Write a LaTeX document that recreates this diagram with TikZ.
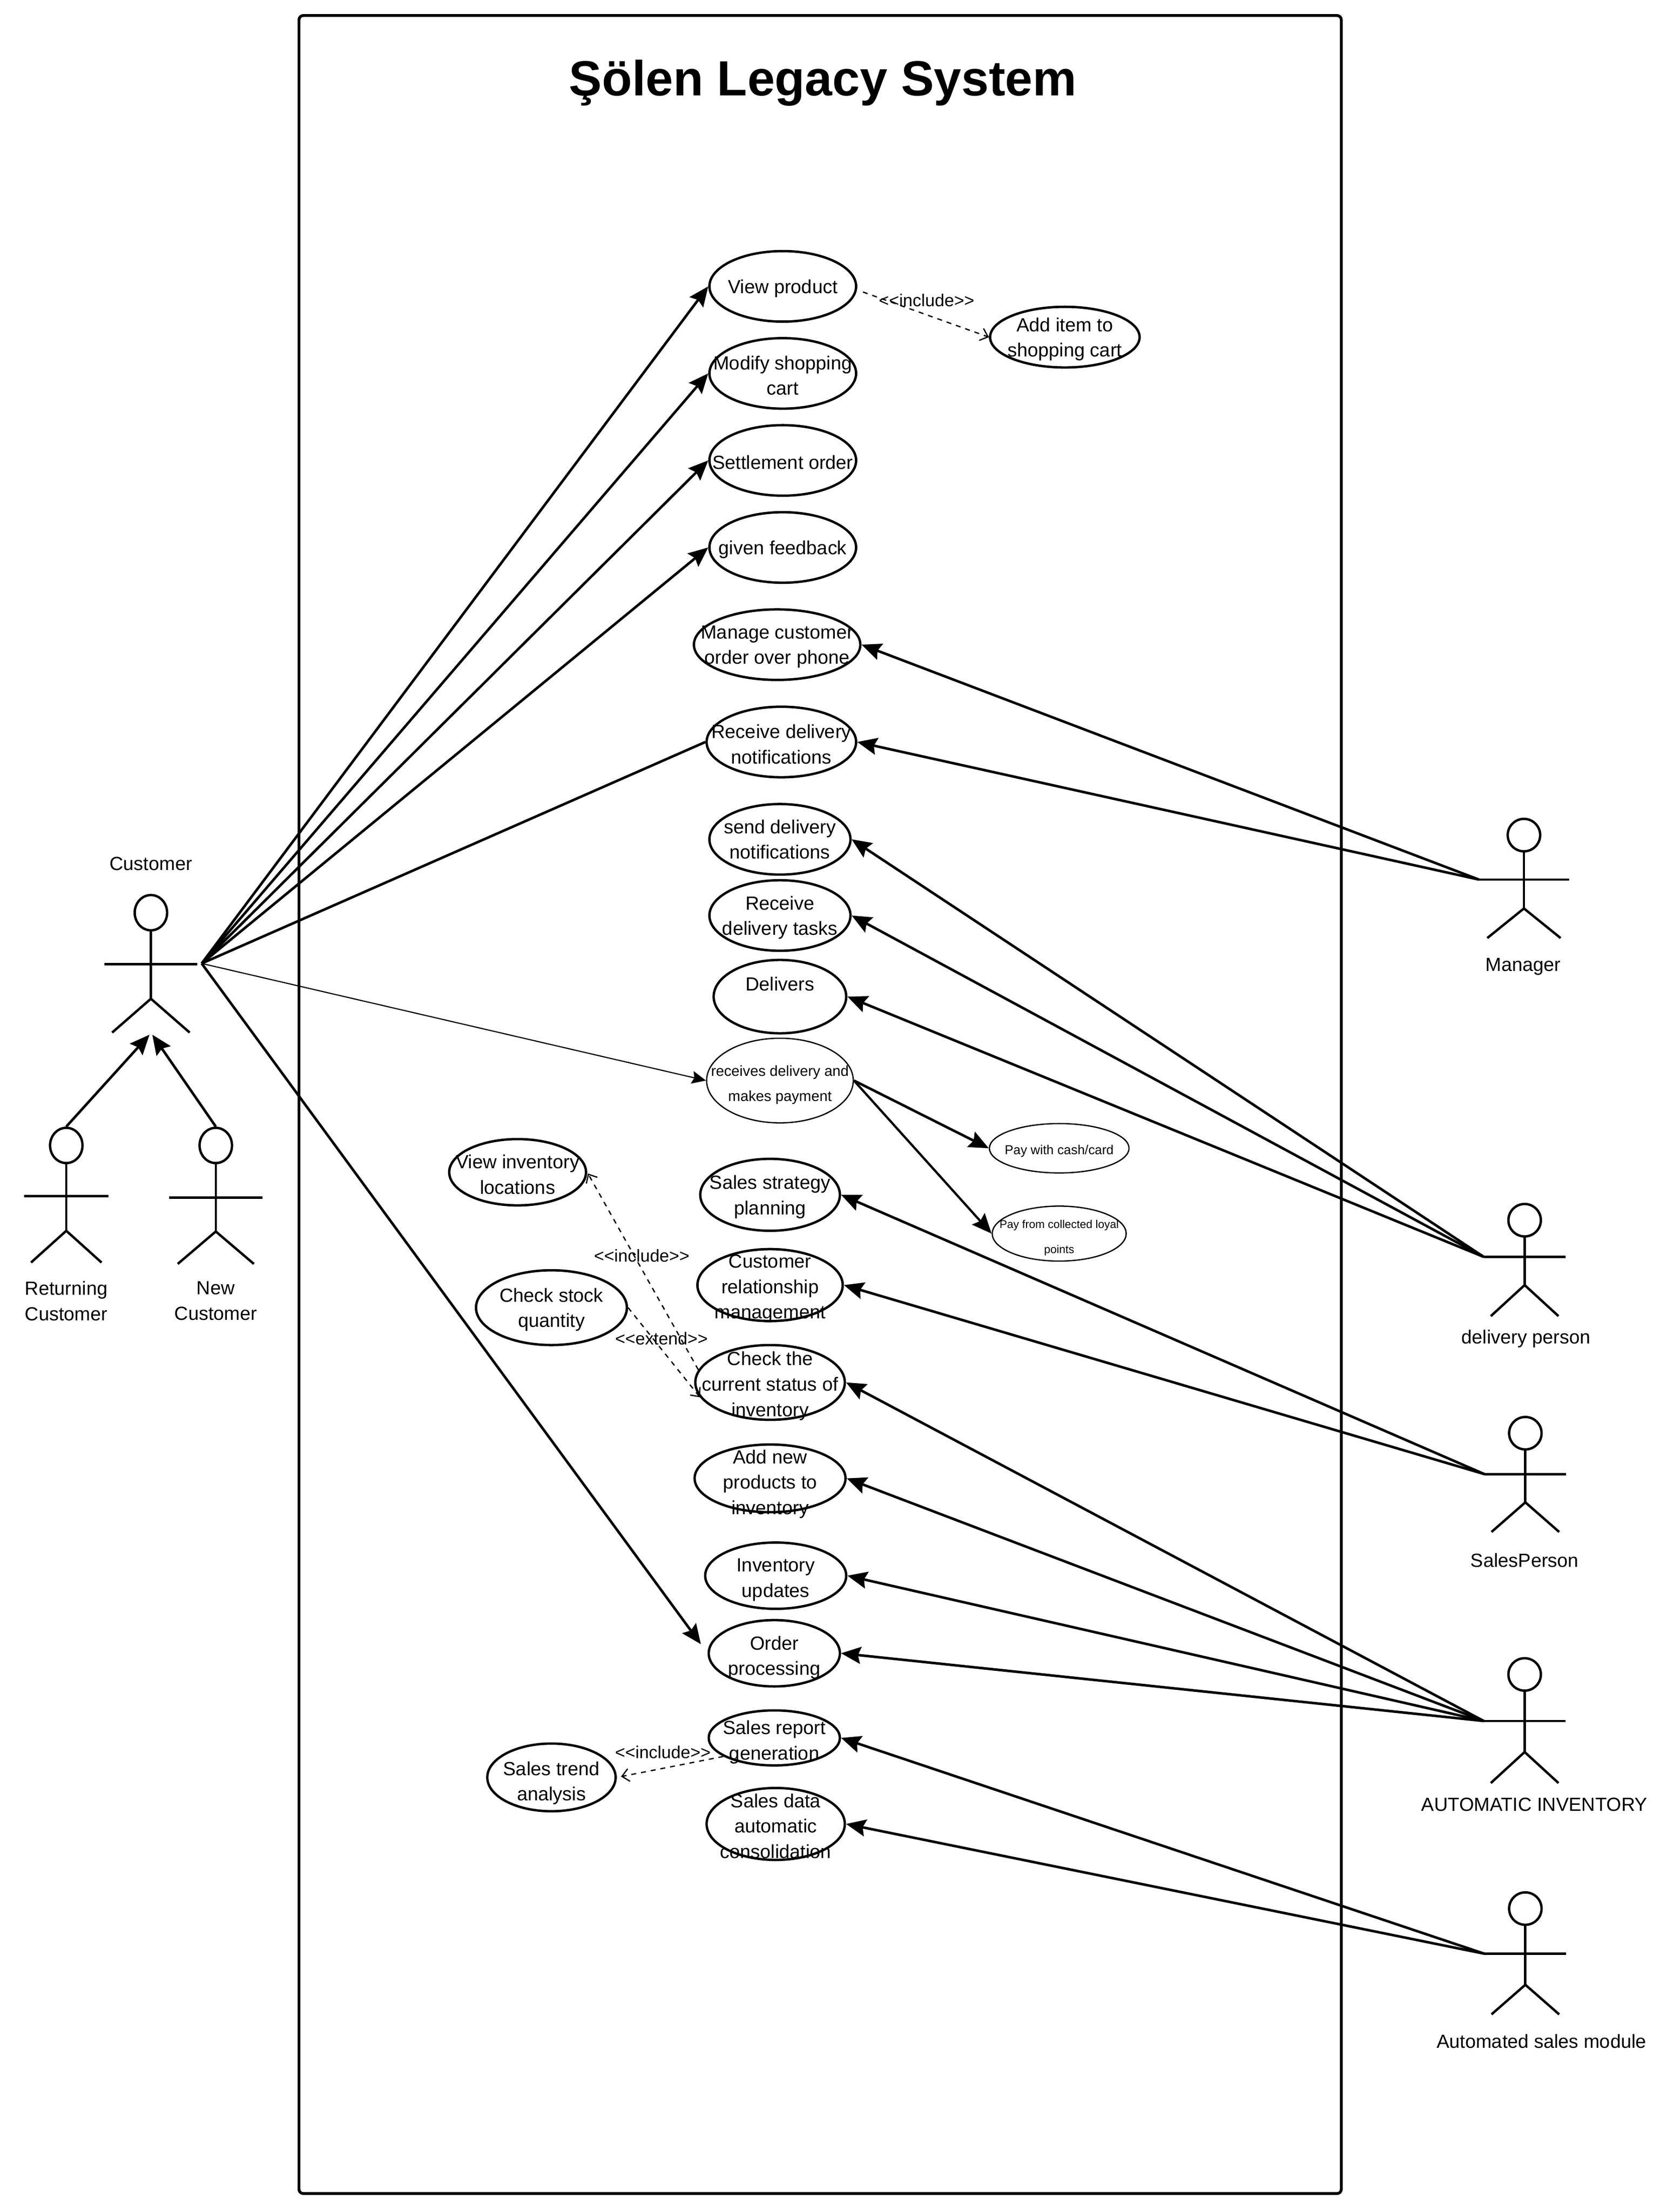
\documentclass[tikz,border=0pt]{standalone}
\usepackage{fontspec}
\setmainfont{Liberation Sans}
\usetikzlibrary{arrows.meta,shapes.geometric,positioning}

% name, x, head y, arm y, hip y, foot y, half arm, half stance
\newcommand{\stickman}[8]{
	\node (#1) [head] at (#2,#3) {};
	\coordinate (#1l) at (#2-#7,#4);
	\coordinate (#1r) at (#2+#7,#4);
	\coordinate (#1b) at (#2,#5);
	\coordinate (#1fl) at (#2-#8,#6);
	\coordinate (#1fr) at (#2+#8,#6);
	\draw[limb] (#1) -- (#1b);
	\draw[limb] (#1l) -- (#1r);
	\draw[limb] (#1fl) -- (#1b) -- (#1fr);
}

\begin{document}
\begin{tikzpicture}[
		x=1pt, y=-1pt,
		node distance=10pt,
		limb/.style={line width=1.7pt},
		head/.style={draw, ellipse, line width=1.7pt, minimum width=23pt, minimum height=25pt, inner sep=0pt},
		usecase/.style={draw, ellipse, line width=1.7pt, inner sep=0pt},
		thincase/.style={draw, ellipse, line width=0.9pt, inner sep=0pt},
		uctext/.style={align=center, inner sep=0pt, yshift=-1.5pt, font=\fontsize{13.5}{18}\selectfont},
		smalltext/.style={align=center, inner sep=0pt, yshift=-3pt, font=\fontsize{10.4}{18}\selectfont},
		tinytext/.style={align=center, inner sep=0pt, yshift=-2pt, font=\fontsize{9.2}{18}\selectfont},
		microtext/.style={align=center, inner sep=0pt, yshift=-3pt, font=\fontsize{8}{18}\selectfont},
		actorname/.style={align=center, inner sep=0pt, yshift=-1.2pt, font=\fontsize{13.5}{18}\selectfont},
		stereo/.style={inner sep=0pt, font=\fontsize{12.3}{14}\selectfont},
		arrow/.style={-{Stealth[length=14pt,width=12pt,inset=2pt]}, line width=1.8pt},
		plainlink/.style={line width=1.8pt},
		thinlink/.style={-{Stealth[length=10pt,width=9pt,inset=1.5pt]}, line width=0.8pt},
		dep/.style={-{Straight Barb[length=5pt,width=9pt]}, dash pattern=on 3.5pt off 3.5pt, line width=0.9pt},
	]
	\useasboundingbox (0,0) rectangle (1181.6,1568.1);

	% system boundary
	\node (frame) [draw, line width=2pt, rounded corners=3pt, minimum width=739pt, minimum height=1544pt, inner sep=0pt] at (581.5,783) {};
	\node (title) [inner sep=0pt, font=\fontsize{35}{40}\selectfont\bfseries] at (583.5,59) {Şölen Legacy System};

	% customer use cases
	\node (vp) [usecase, minimum width=104pt, minimum height=50pt, label={[uctext]center:View product}] at (555,203) {};
	\node (ms) [usecase, minimum width=104pt, minimum height=50pt, below=of vp, label={[uctext]center:Modify shopping\\cart}] {};
	\node (so) [usecase, minimum width=104pt, minimum height=50pt, below=of ms, label={[uctext]center:Settlement order}] {};
	\node (gf) [usecase, minimum width=104pt, minimum height=50pt, below=of so, label={[uctext]center:given feedback}] {};
	\node (ai) [usecase, minimum width=106pt, minimum height=43pt, label={[uctext]center:Add item to\\shopping cart}] at (755,239) {};

	% manager and delivery use cases
	\node (mo) [usecase, minimum width=118pt, minimum height=50pt, label={[uctext]center:Manage customer\\order over phone}] at (551,457) {};
	\node (rn) [usecase, minimum width=106pt, minimum height=50pt, label={[uctext]center:Receive delivery\\notifications}] at (554,526) {};
	\node (sn) [usecase, minimum width=100pt, minimum height=50pt, label={[uctext,yshift=1.5pt]center:send delivery\\notifications}] at (553,595) {};
	\node (rt) [usecase, minimum width=100pt, minimum height=50pt, label={[uctext]center:Receive\\delivery tasks}] at (553,649) {};
	\node (de) [usecase, minimum width=94pt, minimum height=52pt, label={[uctext,yshift=10.5pt]center:Delivers}] at (553,706.5) {};
	\node (rp) [thincase, minimum width=104pt, minimum height=60pt, label={[smalltext]center:receives delivery and\\makes payment}] at (553,766) {};
	\node (pc) [thincase, minimum width=99pt, minimum height=35pt, label={[tinytext]center:Pay with cash/card}] at (751,814) {};
	\node (pl) [thincase, minimum width=95pt, minimum height=39pt, label={[microtext]center:Pay from collected loyal\\points}] at (751,874.5) {};

	% inventory and sales use cases
	\node (vi) [usecase, minimum width=97pt, minimum height=47pt, label={[uctext]center:View inventory\\locations}] at (367,831) {};
	\node (cq) [usecase, minimum width=107pt, minimum height=53pt, label={[uctext]center:Check stock\\quantity}] at (391,927) {};
	\node (ss) [usecase, minimum width=99pt, minimum height=51pt, label={[uctext]center:Sales strategy\\planning}] at (546,847) {};
	\node (cr) [usecase, minimum width=103pt, minimum height=51pt, label={[uctext,yshift=-1pt]center:Customer\\relationship\\management}] at (546,911) {};
	\node (cs) [usecase, minimum width=106pt, minimum height=53pt, label={[uctext,yshift=-1pt]center:Check the\\current status of\\inventory}] at (546,980) {};
	\node (an) [usecase, minimum width=107pt, minimum height=48pt, label={[uctext,yshift=-2.5pt]center:Add new\\products to\\inventory}] at (546,1048) {};
	\node (iu) [usecase, minimum width=100pt, minimum height=47pt, label={[uctext,yshift=-1.5pt]center:Inventory\\updates}] at (550,1117) {};
	\node (op) [usecase, minimum width=93pt, minimum height=47pt, label={[uctext,yshift=-1.5pt]center:Order\\processing}] at (549,1172) {};
	\node (sr) [usecase, minimum width=93pt, minimum height=39pt, label={[uctext,yshift=-1.5pt]center:Sales report\\generation}] at (549,1232) {};
	\node (sd) [usecase, minimum width=98pt, minimum height=51pt, label={[uctext]center:Sales data\\automatic\\consolidation}] at (550,1293) {};
	\node (st) [usecase, minimum width=91pt, minimum height=48pt, label={[uctext,yshift=-2.5pt]center:Sales trend\\analysis}] at (391,1260) {};

	% actors
	\stickman{cust}{107}{647}{683.5}{708}{732}{33}{27.5}
	\stickman{ret}{47}{812}{848}{872.5}{895}{30}{25}
	\stickman{new}{153}{812}{849}{873}{896}{33}{27}
	\begin{scope}[head/.append style={minimum height=23pt}]
		\stickman{mgr}{1080.5}{592}{623.5}{644}{665}{32}{26}
		\stickman{dp}{1081}{865}{891}{911}{933}{29}{24}
		\stickman{sp}{1081.5}{1016}{1045}{1065}{1086}{29}{24}
		\stickman{ainv}{1081}{1187}{1220}{1242}{1264}{29}{24}
		\stickman{asm}{1081.5}{1353}{1385}{1407}{1428}{29}{24}
	\end{scope}

	\node (custlab) [actorname] at (107,611) {Customer};
	\node (retlab) [actorname] at (47,921) {Returning\\Customer};
	\node (newlab) [actorname] at (153,921) {New\\Customer};
	\node (mgrlab) [actorname] at (1080,684) {Manager};
	\node (dplab) [actorname] at (1082,948) {delivery person};
	\node (splab) [actorname] at (1081,1105) {SalesPerson};
	\node (ainvlab) [actorname] at (1088,1278) {AUTOMATIC INVENTORY};
	\node (asmlab) [actorname] at (1093,1446) {Automated sales module};

	\coordinate (hub) at (143,683);
	\coordinate (custfootl) at (106,733.5);
	\coordinate (custfootr) at (108,733.5);

	% customer links
	\draw[arrow] (hub) -- (vp.west);
	\draw[arrow] (hub) -- (ms.west);
	\draw[arrow] (hub) -- (so.west);
	\draw[arrow] (hub) -- (gf.west);
	\draw[plainlink] (hub) -- (rn.west);
	\draw[thinlink] (hub) -- (rp.west);
	\draw[arrow, shorten >=8pt] (hub) -- (op.west);
	\draw[arrow] (ret.north) -- (custfootl);
	\draw[arrow] (new.north) -- (custfootr);

	% actor links
	\draw[arrow] (mgrl) -- (mo.east);
	\draw[arrow] (mgrl) -- (rn.east);
	\draw[arrow] (dpl) -- (sn.east);
	\draw[arrow] (dpl) -- (rt.east);
	\draw[arrow] (dpl) -- (de.east);
	\draw[arrow] (spl) -- (ss.east);
	\draw[arrow] (spl) -- (cr.east);
	\draw[arrow] (ainvl) -- (cs.east);
	\draw[arrow] (ainvl) -- (an.east);
	\draw[arrow] (ainvl) -- (iu.east);
	\draw[arrow] (ainvl) -- (op.east);
	\draw[arrow] (asml) -- (sr.east);
	\draw[arrow] (asml) -- (sd.east);

	% payment links
	\draw[arrow] (rp.east) -- (pc.west);
	\draw[arrow, line width=1.6pt] (rp.east) -- (pl.west);

	% dependencies
	\draw[dep] ([xshift=4pt,yshift=-4pt]vp.east) -- (ai.west);
	\draw[dep, shorten >=1pt] (cs.170) -- (vi.east);
	\draw[dep] (cq.east) -- (cs.192);
	\draw[dep, shorten >=3pt] (sr.200) -- (st.east);
	\node (d1) [stereo] at (657,213) {<{}<include>{}>};
	\node (d2) [stereo] at (455,890) {<{}<include>{}>};
	\node (d3) [stereo] at (469,949) {<{}<extend>{}>};
	\node (d4) [stereo] at (470,1242) {<{}<include>{}>};
\end{tikzpicture}
\end{document}
